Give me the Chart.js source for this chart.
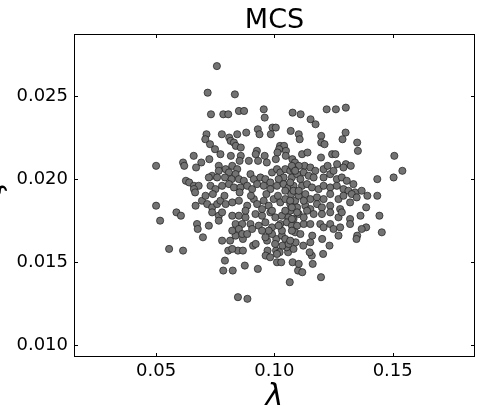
<!DOCTYPE html>
<html>
<head>
<meta charset="utf-8">
<script src="https://cdn.jsdelivr.net/npm/chart.js@4.4.0/dist/chart.umd.min.js"></script>
<style>
  html, body { margin: 0; padding: 0; background: #fff; }
  canvas { display: block; }
</style>
</head>
<body>
<canvas id="mcsChart" width="490" height="420"></canvas>
<script>
// lambda (x) and sigma (y) for each sample
const lambdaValues = [
  0.0757,0.0718,0.0833,0.0732,0.0784,0.0805,0.0850,0.0872,0.0955,0.0959,0.1077,0.1111,0.1153,0.1174,0.1221,0.1260,0.1302,0.0930,0.0937,0.0992,0.1006,0.0985,0.1069,0.1103,0.1107,0.1301,0.1288,0.0713,0.0708,0.0778,0.0843,0.0881,0.0809,0.1198,0.1198,0.1212,0.1350,0.1353,0.0728,0.0749,0.0815,0.0829,0.0837,0.0858,0.0772,0.0816,0.0858,0.0926,0.0921,0.0959,0.1024,0.1041,0.1020,0.1049,0.1013,0.1048,0.1117,0.1140,0.1244,0.1258,0.0725,0.0659,
  0.0500,0.0614,0.0619,0.0691,0.0669,0.0853,0.0892,0.0931,0.0968,0.1006,0.1076,0.1087,0.1128,0.1197,0.1265,0.1302,0.1323,0.1507,0.1541,0.1504,0.1435,0.1435,0.1393,0.1444,0.1454,0.1388,0.1388,0.1369,0.1364,0.1350,0.1347,
  0.0500,0.0517,0.0555,0.0614,0.0586,0.0605,0.0626,0.0640,0.0660,0.0680,0.0660,0.0665,0.0694,0.0667,0.0673,0.0676,0.0698,0.0723,
  0.0846,0.0886,0.1065,0.1197,0.0784,0.0824,0.0875,0.0930,0.0791,0.0805,0.0846,0.0867,0.0910,0.0921,0.0971,0.0963,0.0982,0.1007,0.1011,0.1029,0.1077,0.1100,0.1118,0.1103,0.1162,0.1158,0.1149,0.1206,0.1233,0.1202,0.1122,0.1152,0.1160,0.1058,0.1081,0.1090,0.1052,0.1034,0.1022,0.1008,0.1032,0.1003,0.0779,0.0813,0.0836,0.0867,
  0.0765,0.0794,0.0822,0.0843,0.0808,0.0836,0.0765,0.0737,0.0723,0.0758,0.0791,0.0819,0.0850,0.0871,0.0899,0.0913,0.0941,0.0962,0.0990,0.1011,0.1025,0.1046,0.1067,0.1074,0.1039,0.1018,0.0983,0.0730,0.0751,0.0779,0.0808,0.0829,0.0857,0.0885,0.0906,0.0927,0.0955,0.0983,0.1011,0.1039,0.1060,0.1081,0.0716,0.0737,0.0758,0.0772,0.0794,0.0822,0.0850,0.0885,0.0913,0.0927,0.0955,0.0976,0.0997,0.1025,0.1046,0.1067,0.1088,0.0709,0.0740,0.0789,0.0853,0.0901,0.0966,0.1015,0.1071,
  0.0737,0.0765,0.0779,0.0822,0.0850,0.0878,0.0920,0.0948,0.0983,0.1004,0.1032,0.1060,0.0765,0.0836,0.0864,0.0899,0.0934,0.0962,0.0990,0.1025,0.1053,0.1074,0.0822,0.0850,0.0864,0.0885,0.0969,0.1046,0.1060,0.0962,0.0990,0.1032,0.1081,0.0822,0.1011,
  0.1103,0.1081,0.1152,0.1173,0.1124,0.1145,0.1166,0.1096,0.1110,0.1208,0.1225,0.1292,0.1208,0.1236,0.1250,0.1264,0.1285,0.1306,0.1334,0.1067,0.1117,0.1138,0.1159,0.1187,0.1208,0.1236,0.1264,0.1292,0.1313,0.1341,0.1369,0.1081,0.1103,0.1131,0.1152,0.1180,0.1208,0.1236,0.1271,0.1292,0.1327,0.1348,0.1320,0.1096,0.1131,0.1152,0.1180,0.1201,0.1236,0.1278,
  0.1067,0.1103,0.1138,0.1166,0.1201,0.1236,0.1271,0.1285,0.1320,0.1096,0.1124,0.1152,0.1194,0.1208,0.1236,0.1250,0.1278,0.1320,0.1088,0.1110,0.1271,0.1067,
  0.1074,0.1088,0.1103,0.1067,0.1124,0.1096,0.1081,0.1124,0.1074,0.1046,0.1074,0.1018,0.0976,0.0948,0.0906,0.1046,0.1074,0.0990,0.0948,0.0878
];
const sigmaValues = [
  0.0268,0.0252,0.0251,0.0239,0.0239,0.0239,0.0241,0.0241,0.0242,0.0237,0.0240,0.0239,0.0236,0.0233,0.0242,0.0242,0.0243,0.0230,0.0227,0.0231,0.0231,0.0227,0.0229,0.0227,0.0224,0.0228,0.0224,0.0227,0.0224,0.0227,0.0227,0.0228,0.0225,0.0226,0.0222,0.0221,0.0222,0.0217,0.0221,0.0218,0.0223,0.0222,0.0220,0.0219,0.0215,0.0214,0.0214,0.0217,0.0215,0.0214,0.0220,0.0220,0.0218,0.0217,0.0216,0.0214,0.0215,0.0216,0.0215,0.0215,0.0212,0.0214,
  0.0208,0.0210,0.0208,0.0210,0.0207,0.0211,0.0211,0.0211,0.0210,0.0212,0.0212,0.0210,0.0208,0.0213,0.0209,0.0209,0.0208,0.0214,0.0205,0.0201,0.0200,0.0190,0.0190,0.0178,0.0168,0.0183,0.0171,0.0170,0.0178,0.0166,0.0164,
  0.0184,0.0175,0.0158,0.0157,0.0180,0.0178,0.0199,0.0198,0.0196,0.0196,0.0194,0.0192,0.0187,0.0184,0.0173,0.0170,0.0165,0.0172,
  0.0129,0.0128,0.0138,0.0141,0.0145,0.0145,0.0148,0.0146,0.0151,0.0157,0.0157,0.0157,0.0160,0.0161,0.0157,0.0154,0.0153,0.0157,0.0150,0.0150,0.0150,0.0145,0.0144,0.0149,0.0149,0.0154,0.0156,0.0155,0.0160,0.0164,0.0160,0.0162,0.0166,0.0156,0.0158,0.0162,0.0159,0.0160,0.0156,0.0164,0.0166,0.0161,0.0163,0.0163,0.0166,0.0164,
  0.0208,0.0206,0.0208,0.0206,0.0204,0.0203,0.0205,0.0202,0.0201,0.0201,0.0201,0.0200,0.0200,0.0199,0.0203,0.0200,0.0201,0.0200,0.0204,0.0206,0.0204,0.0206,0.0205,0.0201,0.0201,0.0200,0.0198,0.0196,0.0194,0.0196,0.0197,0.0195,0.0195,0.0196,0.0194,0.0197,0.0196,0.0194,0.0196,0.0197,0.0195,0.0196,0.0185,0.0183,0.0185,0.0187,0.0185,0.0186,0.0187,0.0184,0.0188,0.0185,0.0187,0.0184,0.0188,0.0186,0.0188,0.0185,0.0187,0.0190,0.0191,0.0190,0.0192,0.0190,0.0191,0.0190,0.0191,
  0.0180,0.0178,0.0180,0.0178,0.0178,0.0177,0.0179,0.0178,0.0180,0.0177,0.0178,0.0177,0.0175,0.0173,0.0173,0.0173,0.0172,0.0174,0.0171,0.0173,0.0174,0.0172,0.0169,0.0170,0.0167,0.0167,0.0163,0.0164,0.0161,0.0165,0.0167,0.0169,0.0169,0.0158,0.0155,
  0.0208,0.0206,0.0207,0.0205,0.0204,0.0202,0.0201,0.0203,0.0200,0.0206,0.0208,0.0207,0.0201,0.0203,0.0205,0.0200,0.0201,0.0199,0.0197,0.0198,0.0196,0.0197,0.0195,0.0194,0.0196,0.0195,0.0196,0.0194,0.0193,0.0192,0.0193,0.0193,0.0190,0.0191,0.0188,0.0189,0.0188,0.0191,0.0188,0.0190,0.0191,0.0189,0.0186,0.0183,0.0184,0.0182,0.0185,0.0183,0.0184,0.0182,
  0.0181,0.0179,0.0181,0.0179,0.0179,0.0180,0.0177,0.0180,0.0176,0.0172,0.0173,0.0173,0.0173,0.0171,0.0173,0.0170,0.0171,0.0173,0.0168,0.0167,0.0166,0.0163,
  0.0208,0.0205,0.0193,0.0187,0.0187,0.0180,0.0176,0.0177,0.0169,0.0181,0.0176,0.0172,0.0169,0.0169,0.0170,0.0193,0.0183,0.0181,0.0182,0.0181
];

// axis ticks
const xTicks = [0.05, 0.10, 0.15];
const xTickLabels = ['0.05', '0.10', '0.15'];
const yTicks = [0.010, 0.015, 0.020, 0.025];
const yTickLabels = ['0.010', '0.015', '0.020', '0.025'];

const FONT = 'DejaVu Sans';

const points = lambdaValues.map((x, i) => ({ x: x, y: sigmaValues[i] }));

// box round the plot, inward ticks on all four sides, title and the clipped y label
const framePlugin = {
  id: 'frame',
  afterDraw(chart) {
    const ctx = chart.ctx;
    const a = chart.chartArea;
    const xs = chart.scales.x;
    const ys = chart.scales.y;
    const tl = 4;
    ctx.save();
    ctx.strokeStyle = '#000';
    ctx.lineWidth = 1;
    ctx.strokeRect(a.left + 0.5, a.top + 0.5, a.right - a.left - 1, a.bottom - a.top - 1);
    ctx.beginPath();
    xTicks.forEach(v => {
      const px = Math.round(xs.getPixelForValue(v)) + 0.5;
      ctx.moveTo(px, a.bottom); ctx.lineTo(px, a.bottom - tl);
      ctx.moveTo(px, a.top); ctx.lineTo(px, a.top + tl);
    });
    yTicks.forEach(v => {
      const py = Math.round(ys.getPixelForValue(v)) + 0.5;
      ctx.moveTo(a.left, py); ctx.lineTo(a.left + tl, py);
      ctx.moveTo(a.right, py); ctx.lineTo(a.right - tl, py);
    });
    ctx.stroke();

    ctx.fillStyle = '#000';
    ctx.font = '27px "' + FONT + '"';
    ctx.textAlign = 'center';
    ctx.textBaseline = 'alphabetic';
    ctx.fillText('MCS', (a.left + a.right) / 2, 28);

    ctx.translate(1, 190);
    ctx.rotate(-Math.PI / 2);
    ctx.font = 'italic 30px "' + FONT + '"';
    ctx.fillText('ζ', 0, 0);
    ctx.restore();
  }
};

new Chart(document.getElementById('mcsChart').getContext('2d'), {
  type: 'scatter',
  data: {
    datasets: [{
      data: points,
      pointRadius: 3.6,
      pointHoverRadius: 3.6,
      backgroundColor: '#737373',
      borderColor: 'rgba(25,25,25,0.85)',
      borderWidth: 0.8
    }]
  },
  options: {
    responsive: false,
    animation: false,
    layout: { padding: { left: 0, right: 15, top: 34, bottom: 0 } },
    plugins: {
      legend: { display: false },
      tooltip: { enabled: false },
      title: { display: false }
    },
    scales: {
      x: {
        type: 'linear',
        min: 0.0153,
        max: 0.1848,
        afterBuildTicks: s => { s.ticks = xTicks.map(v => ({ value: v })); },
        afterFit: s => { s.height = 63; },
        grid: { display: false, drawTicks: false },
        border: { display: false },
        ticks: {
          autoSkip: false,
          maxRotation: 0,
          padding: 4,
          color: '#000',
          font: { family: FONT, size: 18 },
          callback: (v, i) => xTickLabels[i]
        },
        title: {
          display: true,
          text: 'λ',
          color: '#000',
          font: { family: FONT, size: 30, style: 'italic', lineHeight: 1.2 },
          padding: { top: 0, bottom: 5 }
        }
      },
      y: {
        type: 'linear',
        min: 0.0093,
        max: 0.02873,
        afterBuildTicks: s => { s.ticks = yTicks.map(v => ({ value: v })); },
        afterFit: s => { s.width = 74; },
        grid: { display: false, drawTicks: false },
        border: { display: false },
        ticks: {
          autoSkip: false,
          padding: 6,
          color: '#000',
          font: { family: FONT, size: 18 },
          callback: (v, i) => yTickLabels[i]
        }
      }
    }
  },
  plugins: [framePlugin]
});
</script>
</body>
</html>
